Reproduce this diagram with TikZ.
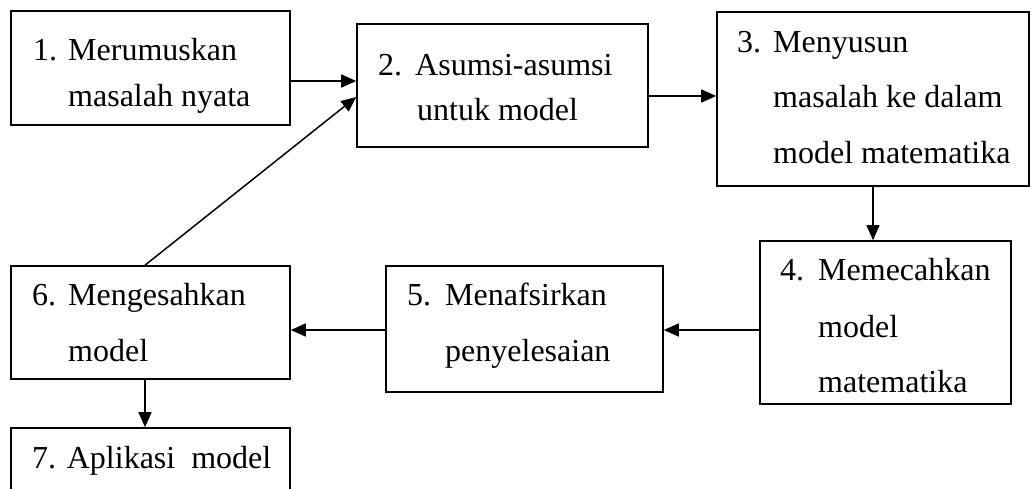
\documentclass[tikz,border=0pt]{standalone}
\usepackage{fontspec}
\setmainfont{Liberation Serif}
\usetikzlibrary{arrows.meta}
\begin{document}
\begin{tikzpicture}[x=1pt,y=-1pt,
  box/.style={draw, line width=1.6pt, inner sep=0pt},
  txt/.style={anchor=base west, inner sep=0pt, font=\fontsize{32}{38}\selectfont},
  arr/.style={line width=1.5pt, -{Triangle[length=15pt,width=13pt]}}]
\clip (0,0) rectangle (1031,488);
\useasboundingbox (0,0) rectangle (1031,488);
% boxes
\node[box, minimum width=279pt, minimum height=114pt] (b1) at (150.5,68) {};
\node[box, minimum width=291pt, minimum height=123pt] (b2) at (502.5,85.5) {};
\node[box, minimum width=312pt, minimum height=174pt] (b3) at (873,99) {};
\node[box, minimum width=251pt, minimum height=163pt] (b4) at (885.5,322.5) {};
\node[box, minimum width=277pt, minimum height=126pt] (b5) at (524.5,329) {};
\node[box, minimum width=279pt, minimum height=113pt] (b6) at (150.5,322.5) {};
\node[box, minimum width=279pt, minimum height=67pt] (b7) at (150.5,461.5) {};
% texts
\node[txt] (n1) at (33,60) {1.};
\node[txt] (t1a) at (68,60) {Merumuskan};
\node[txt] (t1b) at (68,106) {masalah nyata};
\node[txt] (n2) at (378,75) {2.};
\node[txt] (t2a) at (415,75) {Asumsi-asumsi};
\node[txt] (t2b) at (417,120) {untuk model};
\node[txt] (n3) at (737,52) {3.};
\node[txt] (t3a) at (773,52) {Menyusun};
\node[txt] (t3b) at (773,107) {masalah ke dalam};
\node[txt] (t3c) at (773,163) {model matematika};
\node[txt] (n4) at (780,280) {4.};
\node[txt] (t4a) at (818,280) {Memecahkan};
\node[txt] (t4b) at (818,337) {model};
\node[txt] (t4c) at (818,392) {matematika};
\node[txt] (n5) at (407,305) {5.};
\node[txt] (t5a) at (445,305) {Menafsirkan};
\node[txt] (t5b) at (445,361) {penyelesaian};
\node[txt] (n6) at (32,305) {6.};
\node[txt] (t6a) at (68,305) {Mengesahkan};
\node[txt] (t6b) at (68,361) {model};
\node[txt] (t7) at (32,468) {7. Aplikasi\ \ model};
% connectors
\draw[arr] (b1.east |- 0,81) -- (b2.west |- 0,81);
\draw[arr] (b2.east |- 0,96) -- (b3.west |- 0,96);
\draw[arr] (873,0 |- b3.south) -- (873,0 |- b4.north);
\draw[arr] (b4.west |- 0,330) -- (b5.east |- 0,330);
\draw[arr] (b5.west |- 0,330) -- (b6.east |- 0,330);
\draw[arr] (145,0 |- b6.south) -- (145,0 |- b7.north);
\draw[arr] (145,0 |- b6.north) -- (b2.west |- 0,97);
\end{tikzpicture}
\end{document}
